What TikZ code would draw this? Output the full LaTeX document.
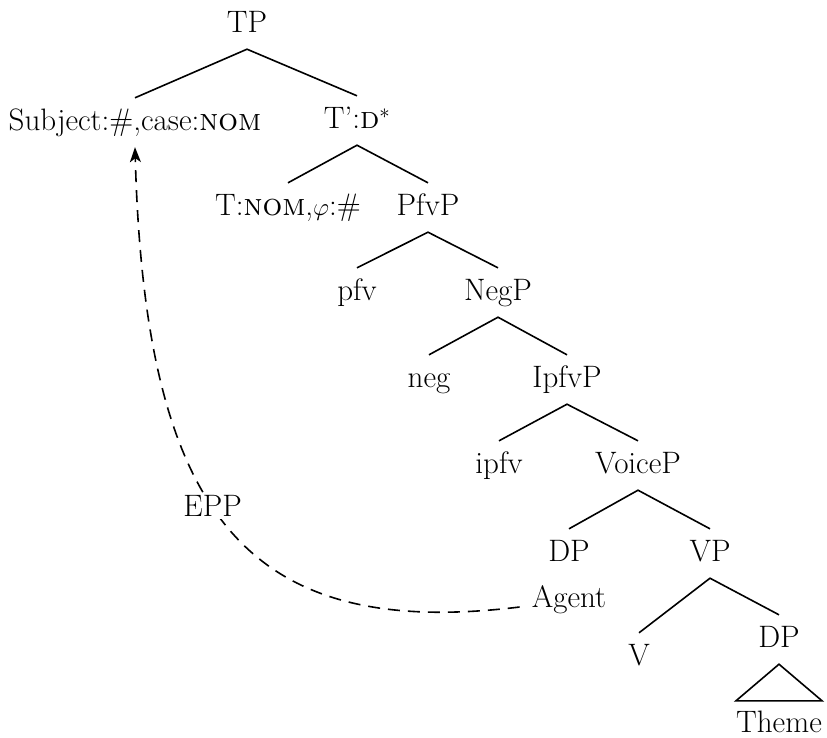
\documentclass[tikz,border=0pt]{standalone}
\usetikzlibrary{arrows.meta}
\begin{document}
\begin{tikzpicture}[x=1pt,y=-1pt,
  lbl/.style={anchor=base, font=\fontsize{31}{36}\selectfont, text height=27pt, text depth=12pt, inner ysep=5pt, inner xsep=0pt},
  branch/.style={line width=1.6pt},
  move/.style={line width=1.6pt, dash pattern=on 12pt off 8pt, -{Stealth[length=15pt,width=11pt,inset=4pt]}},
  lab/.style={fill=white, font=\fontsize{31}{36}\selectfont, inner sep=2pt}]
\useasboundingbox (0,0) rectangle (827,737);
\node[lbl] (tp) at (247,32) {TP};
\node[lbl] (subj) at (135,130) {Subject:\#,case:\textsc{nom}};
\node[lbl] (tbar) at (357,128) {T’:\textsc{d}$^{*}$};
\node[lbl] (tnom) at (288,215) {T:\textsc{nom},$\varphi$:\#};
\node[lbl] (pfvp) at (428,215) {PfvP};
\node[lbl] (pfv) at (357,300) {pfv};
\node[lbl] (negp) at (498,300) {NegP};
\node[lbl] (neg) at (429,387) {neg};
\node[lbl] (ipfvp) at (567,387) {IpfvP};
\node[lbl] (ipfv) at (499,473) {ipfv};
\node[lbl] (voicep) at (638,473) {VoiceP};
\node[lbl] (dp) at (569,561) {DP};
\node[lbl] (vp) at (710,561) {VP};
\node[lbl, inner xsep=12pt] (agent) at (569,607) {Agent};
\node[lbl] (v) at (639,665) {V};
\node[lbl] (dptwo) at (779,647) {DP};
\node[lbl, text depth=0pt, inner ysep=4pt] (theme) at (779,732) {Theme};
\draw[branch] (subj.north) -- (tp.south) -- (tbar.north);
\draw[branch] (tnom.north) -- (tbar.south) -- (pfvp.north);
\draw[branch] (pfv.north) -- (pfvp.south) -- (negp.north);
\draw[branch] (neg.north) -- (negp.south) -- (ipfvp.north);
\draw[branch] (ipfv.north) -- (ipfvp.south) -- (voicep.north);
\draw[branch] (dp.north) -- (voicep.south) -- (vp.north);
\draw[branch] (v.north) -- (vp.south) -- (dptwo.north);
\draw[branch, line join=miter] (dptwo.south) -- (theme.north west) -- (theme.north east) -- cycle;
\draw[move] (agent.base west) .. controls (250,640) and (145,520) .. node[lab, pos=0.55] (epp) {EPP} (subj.south);
\end{tikzpicture}
\end{document}
